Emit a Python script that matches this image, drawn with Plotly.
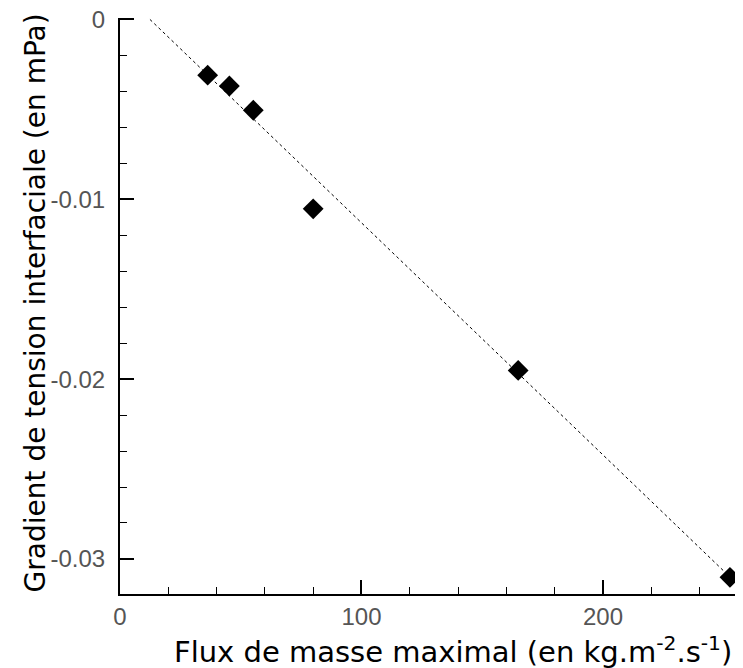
import plotly.graph_objects as go

# Data points
flux = [36.3, 45.3, 55.2, 80.0, 164.9, 252.6]
gradient = [-0.0031, -0.0037, -0.00505, -0.01053, -0.01952, -0.03102]

# Fitted line endpoints
fit_x = [12.4, 258.0]
fit_y = [0.0, -0.0317]

x_tickvals = [0, 100, 200]
x_ticktext = ["0", "100", "200"]
y_tickvals = [0, -0.01, -0.02, -0.03]
y_ticktext = ["0", "-0.01", "-0.02", "-0.03"]

fig = go.Figure()
fig.add_trace(go.Scatter(x=fit_x, y=fit_y, mode="lines",
                         line=dict(color="black", width=1, dash="dot"),
                         showlegend=False, cliponaxis=False))
fig.add_trace(go.Scatter(x=flux, y=gradient, mode="markers",
                         marker=dict(symbol="diamond", size=16, color="black"),
                         showlegend=False, cliponaxis=False))

tickfont = dict(family="Liberation Sans, Arial, sans-serif", size=24, color="#555")
axis_common = dict(showline=True, linecolor="black", linewidth=2,
                   ticks="inside", ticklen=14, tickwidth=2, tickcolor="black",
                   showgrid=False, zeroline=False, tickfont=tickfont,
                   automargin=False, ticklabeloverflow="allow")

fig.update_xaxes(range=[-0.001, 258], tickvals=x_tickvals, ticktext=x_ticktext,
                 minor=dict(dtick=20, ticks="inside", ticklen=7, tickwidth=1, tickcolor="black"),
                 ticklabelstandoff=0, **axis_common)
fig.update_yaxes(range=[-0.03195, 0.00008], tickvals=y_tickvals, ticktext=y_ticktext,
                 minor=dict(dtick=0.002, ticks="inside", ticklen=7, tickwidth=1, tickcolor="black"),
                 ticklabelstandoff=8, **axis_common)

titlefont = dict(family="DejaVu Sans, sans-serif", size=28, color="black")
fig.add_annotation(text="Flux de masse maximal (en kg.m<sup>-2</sup>.s<sup>-1</sup>)",
                   xref="paper", yref="paper", x=0.535, y=-0.097,
                   xanchor="center", yanchor="middle",
                   showarrow=False, font=dict(family="DejaVu Sans, sans-serif", size=29, color="black"))
fig.add_annotation(text="Gradient de tension interfaciale (en mPa)",
                   xref="paper", yref="paper", x=-0.136, y=0.505, textangle=-90,
                   xanchor="center", yanchor="middle",
                   showarrow=False, font=titlefont)

# page body has an 8px default margin: figure shrunk accordingly
fig.update_layout(width=735, height=660,
                  margin=dict(l=112, r=0, t=10, b=74),
                  paper_bgcolor="white", plot_bgcolor="white")

fig.write_html("out.html")
